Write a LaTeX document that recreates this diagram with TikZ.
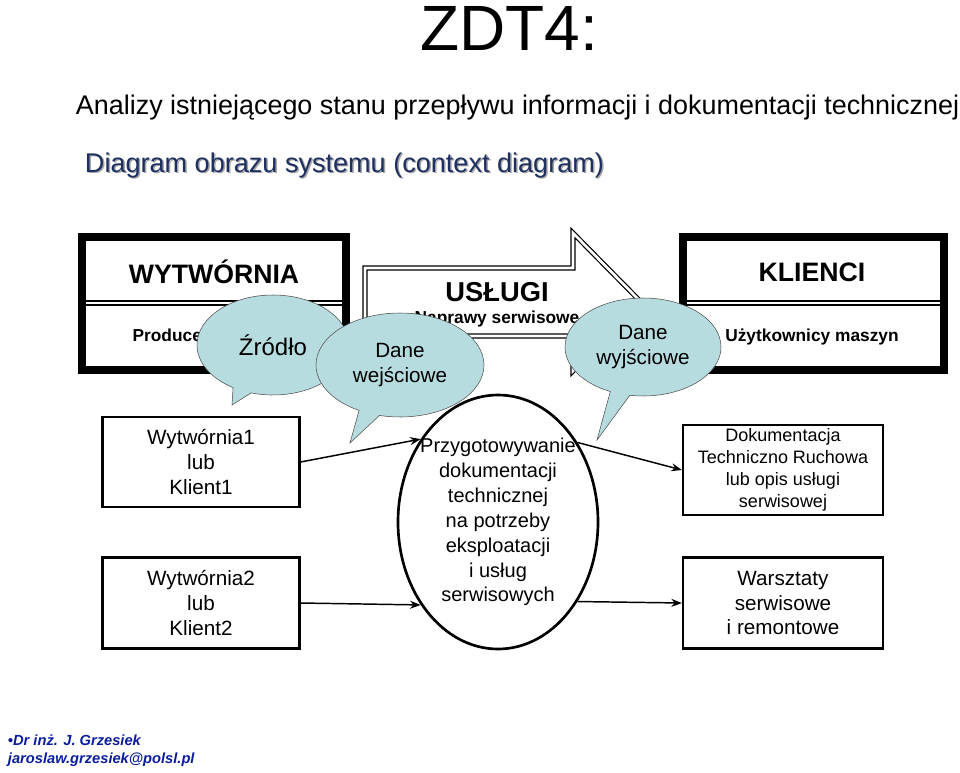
\documentclass[tikz,border=0pt]{standalone}
\usepackage{fontspec}
\setmainfont{Liberation Sans}
\usetikzlibrary{positioning,arrows.meta,shapes.geometric,shapes.callouts,calc}
\definecolor{bubble}{HTML}{B7DCE0}
\definecolor{footblue}{HTML}{0A1E9C}
\definecolor{headblue}{HTML}{1F3060}

\begin{document}
\begin{tikzpicture}[
  x=0.75pt, y=-0.75pt,
  >=Stealth,
  thick,
  entity/.style={draw, line width=1.6pt, fill=white, align=center, font=\fontsize{15.5}{18.5}\selectfont, inner sep=0pt},
  bigbox/.style={draw, line width=6pt, fill=white},
  proc/.style={ellipse, draw, line width=2pt, fill=white, minimum width=200*0.75pt, minimum height=254*0.75pt, align=center,
    inner xsep=-12pt, inner ysep=-30pt, font=\fontsize{15}{18.7}\selectfont},
  talk/.style={ellipse callout, draw=black!70, thin, fill=bubble, align=center, inner sep=0pt, font=\fontsize{15.5}{18.5}\selectfont},
  flow/.style={->, line width=1.1pt}
]
\useasboundingbox (0,0) rectangle (960,772);

% --- Naglowki ---
\node[font=\fontsize{48}{56}\selectfont] (title) at (509,28) {ZDT4:};
\node[font=\fontsize{20.2}{24}\selectfont, anchor=west] (sub) at (71,108)
  {Analizy istniejącego stanu przepływu informacji i dokumentacji technicznej};
\node[font=\fontsize{20.3}{24}\selectfont, text=black!35, anchor=west] at (81.5,166.5)
  {Diagram obrazu systemu (context diagram)};
\node[font=\fontsize{20.3}{24}\selectfont, text=headblue, anchor=west] (ctx) at (80,165)
  {Diagram obrazu systemu (context diagram)};

% --- Bloki gorne ---
\draw[bigbox] (82,237) rectangle (346,370);
\draw[line width=0.9pt, double, double distance=2pt] (86,303) -- (342,303);
\node[font=\bfseries\fontsize{20}{23}\selectfont] (wyt) at (214,272) {WYTWÓRNIA};
\node[font=\bfseries\fontsize{13}{16}\selectfont] (prod) at (214,337) {Producenci maszyn};

\draw[bigbox] (683,237) rectangle (944,370);
\draw[line width=0.9pt, double, double distance=2pt] (687,303) -- (940,303);
\node[font=\bfseries\fontsize{20}{23}\selectfont] (kl) at (812,272) {KLIENCI};
\node[font=\bfseries\fontsize{13}{16}\selectfont] (uzy) at (812,337) {Użytkownicy maszyn};

% --- Strzalka USLUGI ---
\draw[double, line width=0.9pt, double distance=2pt, fill=white]
  (365,268) -- (573,268) -- (573,233) -- (641,302) -- (573,371) -- (573,336) -- (365,336) -- cycle;
\node[font=\bfseries\fontsize{20.5}{23}\selectfont] (usl) at (497,292) {USŁUGI};
\node[font=\bfseries\fontsize{13}{16}\selectfont] (napr) at (497,319) {Naprawy serwisowe};

% --- Zrodla i odbiorcy ---
\node[entity, minimum width=197*0.75pt, minimum height=90*0.75pt] (w1) at (201,462) {Wytwórnia1\\lub\\Klient1};
\node[entity, minimum width=197*0.75pt, minimum height=91*0.75pt] (w2) at (201,603) {Wytwórnia2\\lub\\Klient2};
\node[entity, minimum width=200*0.75pt, minimum height=90*0.75pt, font=\fontsize{13.5}{16.5}\selectfont] (dtr) at (783,470)
  {Dokumentacja\\Techniczno Ruchowa\\lub opis usługi\\serwisowej};
\node[entity, minimum width=200*0.75pt, minimum height=91*0.75pt] (war) at (783,603) {Warsztaty\\serwisowe\\i remontowe};

% --- Proces ---
\node[proc] (pdt) at (498,522) {Przygotowywanie\\dokumentacji\\technicznej\\na potrzeby\\eksploatacji\\i usług\\serwisowych};

\draw[flow] (w1.east |- 0,462) -- (pdt.133);
\draw[flow] (w2.east |- 0,603) -- (pdt.227);
\draw[flow] (pdt.45) -- (dtr.west);
\draw[flow] (pdt.-45) -- (war.west);

% --- Dymki ---
\node[talk, minimum width=152*0.75pt, minimum height=100*0.75pt, font=\fontsize{18}{21}\selectfont,
  callout absolute pointer={(232,405)}] (zr) at (273,345) {Źródło};
\node[talk, minimum width=168*0.75pt, minimum height=104*0.75pt,
  callout absolute pointer={(350,443)}] (dwe) at (400,365) {Dane\\wejściowe};
\node[talk, minimum width=156*0.75pt, minimum height=98*0.75pt,
  callout absolute pointer={(597,440)}] (dwy) at (643,347) {Dane\\wyjściowe};

% --- Stopka ---
\node[font=\bfseries\itshape\fontsize{11}{13.5}\selectfont, text=footblue, anchor=west, align=left] (aut) at (3,751)
  {•Dr inż. J. Grzesiek\\jaroslaw.grzesiek@polsl.pl};

\end{tikzpicture}
\end{document}
